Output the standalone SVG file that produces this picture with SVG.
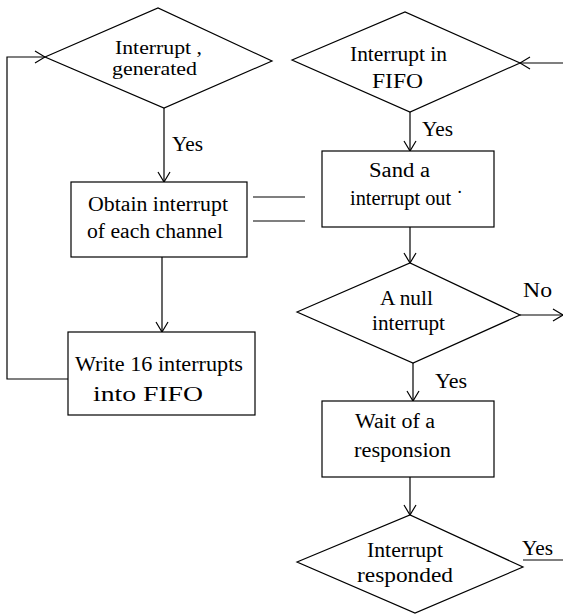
<svg xmlns="http://www.w3.org/2000/svg" width="563" height="616" viewBox="0 0 563 616">
<style>
.s{fill:#fff;stroke:#000;stroke-width:1.2}
.c{fill:none;stroke:#000;stroke-width:1.2}
text{font-family:"Liberation Serif","Times New Roman",serif;font-size:20px;fill:#000}
.sm{font-size:18px}
</style>
<defs>
<marker id="a" viewBox="0 0 12 14" refX="11" refY="7" markerWidth="12" markerHeight="14" markerUnits="userSpaceOnUse" orient="auto">
<polyline points="1,1 11,7 1,13" fill="none" stroke="#000" stroke-width="1.2"/>
</marker>
</defs>
<rect width="563" height="616" fill="#fff"/>
<g id="connectors">
<polyline class="c" points="68,379 7,379 7,57 45,57" marker-end="url(#a)"/>
<line class="c" x1="164" y1="108" x2="164" y2="182" marker-end="url(#a)"/>
<line class="c" x1="162" y1="257" x2="162" y2="332" marker-end="url(#a)"/>
<line class="c" x1="253" y1="197" x2="305" y2="197"/>
<line class="c" x1="253" y1="221" x2="305" y2="221"/>
<line class="c" x1="563" y1="63" x2="520" y2="63" marker-end="url(#a)"/>
<line class="c" x1="410" y1="112" x2="410" y2="151" marker-end="url(#a)"/>
<line class="c" x1="410" y1="227" x2="410" y2="263" marker-end="url(#a)"/>
<line class="c" x1="520" y1="315" x2="563" y2="315" marker-end="url(#a)"/>
<line class="c" x1="413" y1="363" x2="413" y2="401" marker-end="url(#a)"/>
<line class="c" x1="410" y1="477" x2="410" y2="515" marker-end="url(#a)"/>
<line class="c" x1="523" y1="560" x2="563" y2="560"/>
<text x="172" y="151" textLength="31" lengthAdjust="spacingAndGlyphs">Yes</text>
<text x="422" y="136" textLength="31" lengthAdjust="spacingAndGlyphs">Yes</text>
<text x="523" y="297" textLength="29" lengthAdjust="spacingAndGlyphs">No</text>
<text x="435" y="388" textLength="32" lengthAdjust="spacingAndGlyphs">Yes</text>
<text x="522" y="555" textLength="31" lengthAdjust="spacingAndGlyphs">Yes</text>
</g>
<g id="d1">
<polygon class="s" points="45,57 158,8 272,61 164,108"/>
<text class="sm" x="115" y="54" textLength="87" lengthAdjust="spacingAndGlyphs">Interrupt ,</text>
<text class="sm" x="112" y="75" textLength="85" lengthAdjust="spacingAndGlyphs">generated</text>
</g>
<g id="d2">
<polygon class="s" points="292,60 405,12 520,63 410,112"/>
<text x="350" y="61" textLength="97" lengthAdjust="spacingAndGlyphs">Interrupt in</text>
<text x="372" y="88" textLength="51" lengthAdjust="spacingAndGlyphs">FIFO</text>
</g>
<g id="r1">
<rect class="s" x="71" y="182" width="176" height="75"/>
<text x="88" y="211" textLength="140" lengthAdjust="spacingAndGlyphs">Obtain interrupt</text>
<text x="87" y="238" textLength="136" lengthAdjust="spacingAndGlyphs">of each channel</text>
</g>
<g id="r2">
<rect class="s" x="68" y="332" width="187" height="83"/>
<text x="75" y="371" textLength="168" lengthAdjust="spacingAndGlyphs">Write 16 interrupts</text>
<text x="93" y="401" textLength="110" lengthAdjust="spacingAndGlyphs">into FIFO</text>
</g>
<g id="r3">
<rect class="s" x="322" y="151" width="172" height="76"/>
<text x="369" y="177" textLength="61" lengthAdjust="spacingAndGlyphs">Sand a</text>
<text x="350" y="205" textLength="113" lengthAdjust="spacingAndGlyphs">interrupt out ˙</text>
</g>
<g id="d3">
<polygon class="s" points="297,312 410,263 520,315 413,363"/>
<text x="380" y="305" textLength="53" lengthAdjust="spacingAndGlyphs">A null</text>
<text x="372" y="330" textLength="73" lengthAdjust="spacingAndGlyphs">interrupt</text>
</g>
<g id="r4">
<rect class="s" x="322" y="401" width="172" height="76"/>
<text x="355" y="428" textLength="80" lengthAdjust="spacingAndGlyphs">Wait of a</text>
<text x="354" y="457" textLength="97" lengthAdjust="spacingAndGlyphs">responsion</text>
</g>
<g id="d4">
<polygon class="s" points="297,562 410,515 523,567 415,613"/>
<text x="367" y="557" textLength="76" lengthAdjust="spacingAndGlyphs">Interrupt</text>
<text x="357" y="582" textLength="96" lengthAdjust="spacingAndGlyphs">responded</text>
</g>
</svg>
